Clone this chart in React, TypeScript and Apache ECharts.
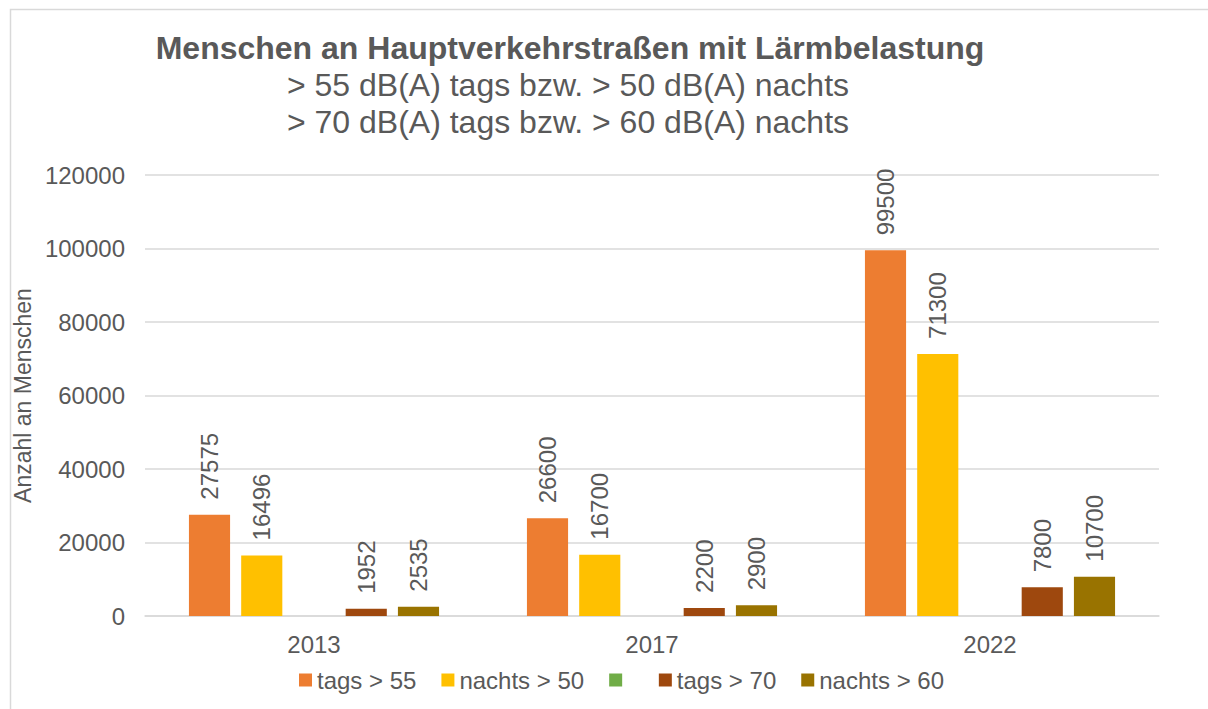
import React, { useEffect, useRef } from "react";
import * as echarts from "echarts";

const years = ["2013", "2017", "2022"];
const tags55 = [27575, 26600, 99500];
const nachts50 = [16496, 16700, 71300];
const empty: (number | null)[] = [null, null, null];
const tags70 = [1952, 2200, 7800];
const nachts60 = [2535, 2900, 10700];

const seriesNames = ["tags > 55", "nachts > 50", " ", "tags > 70", "nachts > 60"];
const seriesColors = ["#ED7D31", "#FFC000", "#70AD47", "#9E480E", "#997300"];
const seriesData = [tags55, nachts50, empty, tags70, nachts60];

const titleText = "Menschen an Hauptverkehrstraßen mit Lärmbelastung";
const subLines = ["> 55 dB(A) tags bzw. > 50 dB(A) nachts", "> 70 dB(A) tags bzw. > 60 dB(A) nachts"];
const yTitle = "Anzahl an Menschen";

const FONT = "'Liberation Sans', Arial, sans-serif";
const TXT = "#595959";

export default function App() {
  const ref = useRef<HTMLDivElement>(null);
  useEffect(() => {
    document.body.style.margin = "0";
    const chart = echarts.init(ref.current!, null, { renderer: "svg" });
    chart.setOption({
      animation: false,
      backgroundColor: "#fff",
      textStyle: { fontFamily: FONT },
      title: [
        {
          text: titleText,
          left: 565,
          top: 27,
          textAlign: "center",
          textStyle: { fontFamily: FONT, fontSize: 32, fontWeight: "bold", color: TXT },
        },
        {
          text: subLines.join("\n"),
          left: 563,
          top: 61,
          textAlign: "center",
          textStyle: { fontFamily: FONT, fontSize: 32, fontWeight: "normal", color: TXT, lineHeight: 37 },
        },
      ],
      graphic: [
        {
          type: "polyline",
          shape: { points: [[10.5, 712], [10.5, 9.5], [1212, 9.5]] },
          style: { stroke: "#D9D9D9", lineWidth: 1.5, fill: "none" },
          silent: true,
        },
      ],
      legend: {
        left: 294,
        top: 663,
        itemWidth: 13,
        itemHeight: 13,
        itemGap: 25,
        icon: "rect",
        data: seriesNames,
        textStyle: { fontFamily: FONT, fontSize: 24, color: TXT },
      },
      grid: { left: 145, right: 49, top: 175, bottom: 93 },
      xAxis: {
        type: "category",
        data: years,
        axisTick: { show: false },
        axisLine: { lineStyle: { color: "#D9D9D9", width: 1.5 } },
        axisLabel: { fontFamily: FONT, fontSize: 24, color: TXT, margin: 16 },
      },
      yAxis: {
        type: "value",
        min: 0,
        max: 120000,
        interval: 20000,
        name: yTitle,
        nameLocation: "middle",
        nameGap: 87,
        nameTextStyle: { fontFamily: FONT, fontSize: 23, color: TXT },
        axisLine: { show: false },
        axisTick: { show: false },
        axisLabel: {
          fontFamily: FONT,
          fontSize: 24,
          color: TXT,
          margin: 20,
          formatter: (v: number) => String(v),
        },
        splitLine: { lineStyle: { color: "#D9D9D9", width: 1.5 } },
      },
      series: seriesNames.map((name, i) => ({
        name,
        type: "bar",
        data: seriesData[i],
        barCategoryGap: "26%",
        barGap: "27%",
        itemStyle: { color: seriesColors[i] },
        label: {
          show: true,
          position: "top",
          rotate: 90,
          align: "left",
          verticalAlign: "middle",
          distance: 15,
          fontFamily: FONT,
          fontSize: 24,
          color: TXT,
        },
      })),
    });
    return () => chart.dispose();
  }, []);
  return <div ref={ref} style={{ width: 1208, height: 709 }} />;
}
